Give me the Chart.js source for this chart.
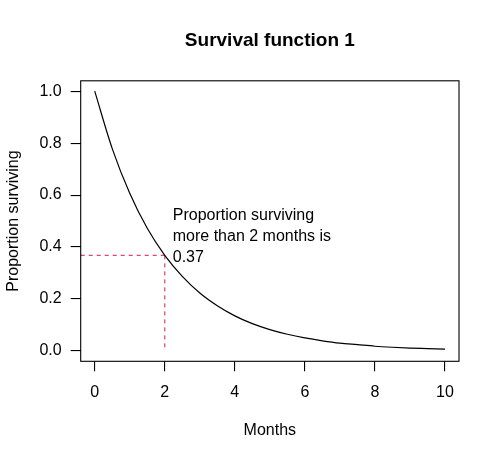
<!DOCTYPE html>
<html>
<head>
<meta charset="utf-8">
<script src="https://cdn.jsdelivr.net/npm/chart.js@4"></script>
<style>
  html, body { margin: 0; padding: 0; background: #fff; }
  #wrap { width: 500px; height: 462px; }
</style>
</head>
<body>
<div id="wrap"><canvas id="survChart"></canvas></div>
<script>
// values
const months = [0, 0.5, 1, 1.5, 2, 2.5, 3, 3.5, 4, 4.5, 5, 5.5, 6, 6.5, 7, 7.5, 8, 8.5, 9, 9.5, 10];
const surviving = [1.000, 0.779, 0.607, 0.472, 0.368, 0.287, 0.223, 0.174, 0.135, 0.105, 0.082, 0.064, 0.050, 0.039, 0.030, 0.024, 0.018, 0.014, 0.011, 0.009, 0.007];
const xTicks = [0, 2, 4, 6, 8, 10];
const yTicks = [0, 0.2, 0.4, 0.6, 0.8, 1.0];
const markMonth = 2;
const markValue = 0.368;
const noteLines = ['Proportion surviving', 'more than 2 months is', '0.37'];

const FONT = 'Liberation Sans, Arial, Helvetica, sans-serif';
const RED = '#DB3F5E';

const boxPlugin = {
  id: 'box',
  afterDraw(chart) {
    const { ctx, chartArea: a } = chart;
    ctx.save();
    ctx.strokeStyle = '#000';
    ctx.lineWidth = 1.1;
    ctx.strokeRect(a.left, a.top, a.right - a.left, a.bottom - a.top);
    ctx.restore();
  }
};

const notePlugin = {
  id: 'note',
  afterDatasetsDraw(chart) {
    const { ctx, scales } = chart;
    const x = scales.x.getPixelForValue(markMonth) + 8;
    const y = scales.y.getPixelForValue(0.44);
    ctx.save();
    ctx.font = '16px ' + FONT;
    ctx.fillStyle = '#000';
    ctx.textAlign = 'left';
    ctx.textBaseline = 'middle';
    noteLines.forEach((line, i) => ctx.fillText(line, x, y + (i - 1) * 21));
    ctx.restore();
  }
};

const ctx = document.getElementById('survChart');
new Chart(ctx, {
  type: 'line',
  data: {
    datasets: [
      {
        label: 'survival',
        data: months.map((m, i) => ({ x: m, y: surviving[i] })),
        borderColor: '#000',
        borderWidth: 1.2,
        pointRadius: 0,
        cubicInterpolationMode: 'monotone',
        fill: false
      },
      {
        label: 'h',
        data: [{ x: -0.4, y: markValue }, { x: markMonth, y: markValue }],
        borderColor: RED,
        borderWidth: 1.2,
        borderDash: [4, 4],
        pointRadius: 0
      },
      {
        label: 'v',
        data: [{ x: markMonth, y: markValue }, { x: markMonth, y: 0 }],
        borderColor: RED,
        borderWidth: 1.2,
        borderDash: [4, 4],
        pointRadius: 0
      }
    ]
  },
  options: {
    responsive: true,
    maintainAspectRatio: false,
    animation: false,
    layout: { padding: { left: 0, right: 41, top: 0, bottom: 0 } },
    plugins: {
      legend: { display: false },
      tooltip: { enabled: false },
      title: {
        display: true,
        fullSize: false,
        text: 'Survival function 1',
        color: '#000',
        font: { family: FONT, size: 19, weight: 'bold' },
        padding: { top: 29.5, bottom: 28.5 }
      }
    },
    scales: {
      x: {
        type: 'linear',
        min: -0.4,
        max: 10.4,
        afterBuildTicks(scale) { scale.ticks = xTicks.map(v => ({ value: v })); },
        afterFit(scale) { scale.height = 100.7; },
        grid: { drawOnChartArea: false, drawTicks: true, tickLength: 10, color: '#000', lineWidth: 1.1 },
        border: { display: false },
        ticks: { color: '#000', padding: 12, font: { family: FONT, size: 16 }, maxRotation: 0 },
        title: {
          display: true,
          text: 'Months',
          color: '#000',
          font: { family: FONT, size: 16 },
          padding: { top: 0, bottom: 22 }
        }
      },
      y: {
        type: 'linear',
        min: -0.04,
        max: 1.04,
        afterBuildTicks(scale) { scale.ticks = yTicks.map(v => ({ value: v })); },
        afterFit(scale) { scale.width = 80.7; },
        grid: { drawOnChartArea: false, drawTicks: true, tickLength: 10, color: '#000', lineWidth: 1.1 },
        border: { display: false },
        ticks: {
          color: '#000',
          padding: 9,
          font: { family: FONT, size: 16 },
          callback: v => v.toFixed(1)
        },
        title: {
          display: true,
          text: 'Proportion surviving',
          color: '#000',
          font: { family: FONT, size: 16 },
          padding: { top: 4, bottom: 0 }
        }
      }
    }
  },
  plugins: [boxPlugin, notePlugin]
});
</script>
</body>
</html>
